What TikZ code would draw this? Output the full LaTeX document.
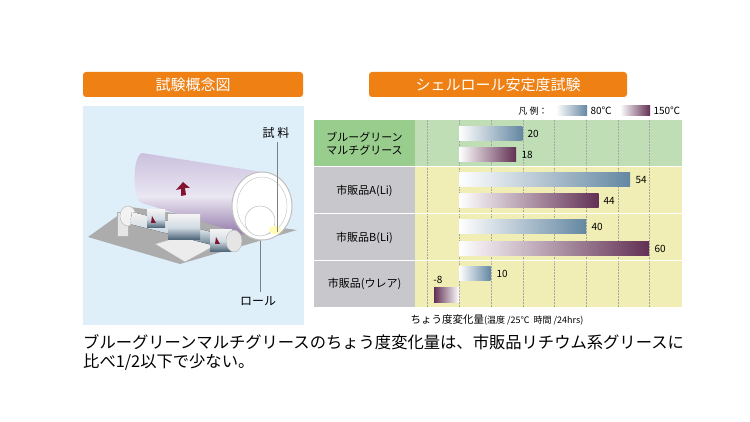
\documentclass[tikz,border=0pt]{standalone}
\usepackage{fontspec}
\setmainfont{Noto Sans CJK JP}
\usetikzlibrary{shadings}
\definecolor{org}{RGB}{238,128,20}
\definecolor{pan}{RGB}{222,239,249}
\definecolor{gbg}{RGB}{192,222,182}
\definecolor{glab}{RGB}{152,205,142}
\definecolor{ybg}{RGB}{240,238,180}
\definecolor{glb}{RGB}{200,200,204}
\definecolor{blu}{RGB}{100,135,162}
\definecolor{pur}{RGB}{98,48,84}
\definecolor{arr}{RGB}{130,20,50}
\definecolor{lav}{RGB}{150,130,190}
\tikzset{
 hdr/.style={fill=org,rounded corners=3pt},
 hdrtxt/.style={text=white,font=\fontsize{15}{15}\selectfont},
 lab/.style={font=\fontsize{11}{13}\selectfont,align=center},
 num/.style={font=\fontsize{10}{10}\selectfont,anchor=west},
 bb/.style={left color=white,right color=blu},
 pb/.style={left color=white,right color=pur},
 gridln/.style={gray!70,densely dotted,line width=0.5pt},
 roller/.style={top color=gray!10,bottom color=blu!70!black,middle color=blu!30},
}
\begin{document}
\begin{tikzpicture}[x=1pt,y=-1pt]
\useasboundingbox (0,0) rectangle (750,422);
\fill[white] (0,0) rectangle (750,422);
% headers
\fill[hdr] (83,72) rectangle (303,97);
\node[hdrtxt] (h1) at (193,84.5) {試験概念図};
\fill[hdr] (369,72) rectangle (627,97);
\node[hdrtxt] (h2) at (498,84.5) {シェルロール安定度試験};
% panel
\fill[pan] (83,106) rectangle (304,325);
% base plate
\fill[gray!65] (88,237) -- (130,207) -- (297,230) -- (180,264) -- cycle;
% big cylinder (behind)
\shade[top color=lav!50!white,bottom color=lav!70!pur,middle color=white!80!lav] (142,153) -- (262,172) -- (262,240) -- (142,203) .. controls (132,200) and (132,156) .. cycle;
\fill[white,draw=gray!50,line width=1pt] (262,206) ellipse (30 and 34);
\draw[gray!50] (262,206) ellipse (25 and 29);
\fill[white,draw=gray!60] (260,221) circle (15);
\fill[yellow!30] (275,230) ellipse (6 and 4);
\fill[arr] (181,196) -- (181,189) -- (176,190) -- (183,182) -- (190,188) -- (185,188) -- (186,195) -- cycle;
% left stand
\fill[gray!20,draw=gray!60] (117,212) rectangle (128,236);
\fill[gray!10,draw=gray!60] (128,216) ellipse (8 and 10);
% pedestal
\fill[gray!15,draw=gray!60] (155,244) -- (195,232) -- (225,240) -- (185,262) -- cycle;
% shaft and rollers
\fill[roller] (132,212) -- (235,238) -- (232,250) -- (130,224) -- cycle;
\fill[roller] (147,210) rectangle (165,228);
\fill[roller] (168,215) rectangle (200,240);
\fill[roller] (210,230) rectangle (232,252);
\fill[gray!20,draw=gray!60] (234,241) ellipse (8 and 11);
\fill[arr] (152,216) -- (156,223) -- (151,223);
\fill[arr] (216,237) -- (220,244) -- (215,244);
% labels
\node[lab,font=\fontsize{12}{12}\selectfont] (sr) at (276,133) {試 料};
\coordinate (srp) at (277,232);
\draw[gray] (277,142) -- (srp);
\node[lab,font=\fontsize{12}{12}\selectfont] (rl) at (258,301) {ロール};
\coordinate (rlp) at (260,241);
\draw[gray] (260,292) -- (rlp);
% chart
\fill[gbg] (314,120) rectangle (682,167);
\fill[glab] (314,120) rectangle (415,167);
\fill[ybg] (415,167) rectangle (682,307);
\fill[glb] (314,167) rectangle (415,307);
\foreach \x in {427,459,491,523,554,586,618,649} \draw[gridln] (\x,120) -- (\x,307);
\foreach \y in {167,214,261} \draw[white,line width=1pt] (314,\y) -- (682,\y);
\node[lab] (l1) at (364.5,143.5) {ブルーグリーン\\マルチグリース};
\node[lab] (l2) at (364.5,190.5) {市販品A(Li)};
\node[lab] (l3) at (364.5,237.5) {市販品B(Li)};
\node[lab] (l4) at (364.5,284) {市販品(ウレア)};
\shade[bb] (459,127) rectangle (522.4,141); \node[num] (n1) at (524,134) {20};
\shade[pb] (459,148) rectangle (516,162); \node[num] (n2) at (518,155) {18};
\shade[bb] (459,173) rectangle (630,187); \node[num] (n3) at (632,180) {54};
\shade[pb] (459,194) rectangle (598.5,208); \node[num] (n4) at (600,201) {44};
\shade[bb] (459,220) rectangle (586,234); \node[num] (n5) at (588,227) {40};
\shade[pb] (459,242) rectangle (649,256); \node[num] (n6) at (651,249) {60};
\shade[bb] (459,267) rectangle (490.7,281); \node[num] (n7) at (493,274) {10};
\shade[left color=pur,right color=white] (434,288) rectangle (459,302); \node[num,anchor=center] (n8) at (438,280) {-8};
% legend
\node[lab,font=\fontsize{9}{9}\selectfont] (lg) at (533,111) {凡 例：};
\shade[bb] (556,106) rectangle (587,116);
\node[num] (lg1) at (587,111) {80℃};
\shade[pb] (620,106) rectangle (650,116);
\node[num] (lg2) at (650,111) {150℃};
% axis caption
\node[font=\fontsize{10.5}{10}\selectfont] (ax) at (497,320) {ちょう度変化量\fontsize{9}{9}\selectfont(温度 /25℃\ \ 時間 /24hrs)};
% bottom text
\node[anchor=west,inner sep=0pt,font=\fontsize{16.3}{17}\selectfont] (t1) at (83,342) {ブルーグリーンマルチグリースのちょう度変化量は、市販品リチウム系グリースに};
\node[anchor=west,inner sep=0pt,font=\fontsize{16.3}{17}\selectfont] (t2) at (83,362) {比べ1/2以下で少ない。};
\end{tikzpicture}
\end{document}
